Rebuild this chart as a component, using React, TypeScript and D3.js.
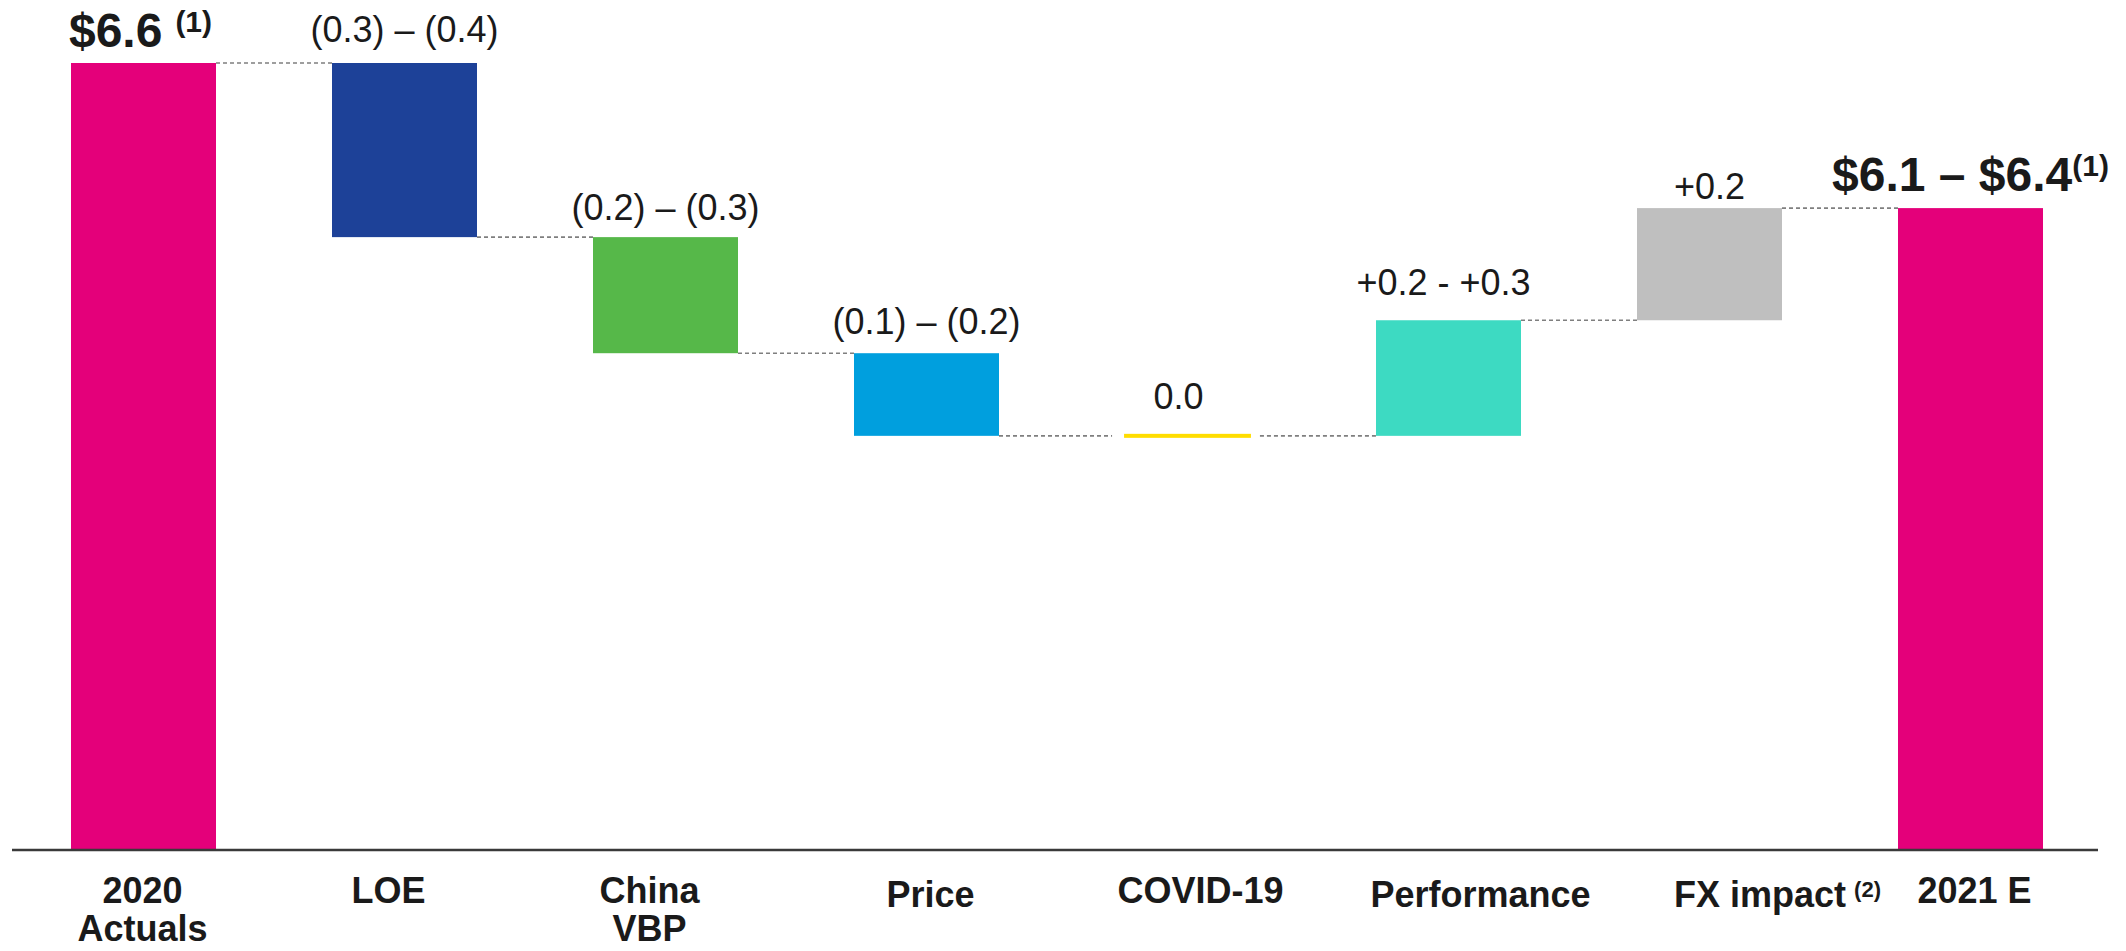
import React from "react";
import * as d3 from "d3";

// ---- data ----
const CATEGORIES = ["2020 Actuals", "LOE", "China VBP", "Price", "COVID-19", "Performance", "FX impact", "2021 E"];
const CATEGORY_LINES = [["2020", "Actuals"], ["LOE"], ["China", "VBP"], ["Price"], ["COVID-19"], ["Performance"], ["FX impact"], ["2021 E"]];
const CATEGORY_NOTES = ["", "", "", "", "", "", "(2)", ""];
const START_VALUE = 6.6;
const DELTAS = [-0.354, -0.236, -0.168, 0, 0.235, 0.228];
const VALUE_LABELS = ["$6.6", "(0.3) – (0.4)", "(0.2) – (0.3)", "(0.1) – (0.2)", "0.0", "+0.2 - +0.3", "+0.2", "$6.1 – $6.4"];
const VALUE_NOTES = ["(1)", "", "", "", "", "", "", "(1)"];
const Y_DOMAIN = [5.0, 6.6];

// ---- styles / layout ----
const COLORS = ["#E4007A", "#1D4198", "#56B849", "#009FDE", "#FFDD00", "#3DDAC2", "#BFBFBF", "#E4007A"];
const W = 2126;
const H = 951;
const AXIS_Y = 850;
const TOP_Y = 63;
const VALUE_GAP = [16, 21, 17, 19, 25, 25, 9, 17];
const VALUE_DX = [-3, 0, 0, 0, -9, -5, 0, 0];
const NOTE_DX = [13, 0, 0, 0, 0, 0, 0, 0];
const LABEL_DX = [-1, -16, -16, 4, 13, 32, 68, 4];
const LABEL_DY = [0, 0, 0, 4, 0, 4, 4, 0];
const LINE_GAP = 38;
const FONT = "'Liberation Sans', Arial, Helvetica, sans-serif";
const TEXT = "#1A1A1A";

export default function App() {
  const x = d3
    .scaleBand<string>()
    .domain(CATEGORIES)
    .range([71, 2043])
    .paddingInner(116 / 261)
    .paddingOuter(0);
  const y = d3.scaleLinear().domain(Y_DOMAIN).range([AXIS_Y, TOP_Y]);
  const bw = x.bandwidth();

  // build waterfall segments
  type Seg = { cat: string; lo: number; hi: number; level: number; kind: "total" | "delta" };
  const segs: Seg[] = [];
  segs.push({ cat: CATEGORIES[0], lo: Y_DOMAIN[0], hi: START_VALUE, level: START_VALUE, kind: "total" });
  let cur = START_VALUE;
  DELTAS.forEach((d, i) => {
    const next = cur + d;
    segs.push({ cat: CATEGORIES[i + 1], lo: Math.min(cur, next), hi: Math.max(cur, next), level: next, kind: "delta" });
    cur = next;
  });
  segs.push({ cat: CATEGORIES[CATEGORIES.length - 1], lo: Y_DOMAIN[0], hi: cur, level: cur, kind: "total" });

  const zeroW = bw * 0.875;
  const zeroH = 4;

  const barGeom = segs.map((s) => {
    const x0 = x(s.cat) as number;
    if (s.hi - s.lo < 1e-9) {
      const cy = y(s.level);
      return { x: x0 + (bw - zeroW) / 2, w: zeroW, y: cy - zeroH / 2, h: zeroH, zero: true };
    }
    return { x: x0, w: bw, y: y(s.hi), h: y(s.lo) - y(s.hi), zero: false };
  });

  // connectors
  const connectors = segs.slice(0, -1).map((s, i) => {
    const a = barGeom[i];
    const b = barGeom[i + 1];
    const x1 = a.x + a.w + (a.zero ? 9 : 0);
    const x2 = b.x - (b.zero ? 12 : 0);
    const level = s.kind === "total" ? s.hi : s.level;
    return { x1, x2, y: y(level) };
  });

  return (
    <svg
      width={W}
      height={H}
      viewBox={`0 0 ${W} ${H}`}
      style={{ position: "absolute", left: 0, top: 0, background: "#fff" }}
      fontFamily={FONT}
    >
      <rect x={0} y={0} width={W} height={H} fill="#fff" />
      {connectors.map((c, i) => (
        <line
          key={"c" + i}
          x1={c.x1}
          x2={c.x2}
          y1={c.y}
          y2={c.y}
          stroke="#7F7F7F"
          strokeWidth={1.6}
          strokeDasharray="4 3"
        />
      ))}
      {barGeom.map((g, i) => (
        <rect key={"b" + i} x={g.x} y={g.y} width={g.w} height={g.h} fill={COLORS[i]} />
      ))}
      <line x1={12} x2={2098} y1={AXIS_Y} y2={AXIS_Y} stroke="#3A3A3A" strokeWidth={2.5} />
      {segs.map((s, i) => {
        const cx = (x(s.cat) as number) + bw / 2 + VALUE_DX[i];
        const topY = barGeom[i].y;
        const isTotal = s.kind === "total";
        return (
          <text
            key={"v" + i}
            x={cx}
            y={topY - VALUE_GAP[i]}
            textAnchor="middle"
            fontSize={isTotal ? 48 : 36}
            fontWeight={isTotal ? 700 : 400}
            fill={TEXT}
          >
            {VALUE_LABELS[i]}
            {VALUE_NOTES[i] ? (
              <tspan fontSize={30} dx={NOTE_DX[i]} dy={-15}>
                {VALUE_NOTES[i]}
              </tspan>
            ) : null}
          </text>
        );
      })}
      {CATEGORIES.map((c, i) => {
        const cx = (x(c) as number) + bw / 2 + LABEL_DX[i];
        const lines = CATEGORY_LINES[i];
        return (
          <g key={"l" + i}>
            {lines.map((ln, j) => (
              <text
                key={j}
                x={cx}
                y={903 + LABEL_DY[i] + j * LINE_GAP}
                textAnchor="middle"
                fontSize={36}
                fontWeight={700}
                fill={TEXT}
              >
                {ln}
                {j === lines.length - 1 && CATEGORY_NOTES[i] ? (
                  <tspan fontSize={22} dx={8} dy={-10}>
                    {CATEGORY_NOTES[i]}
                  </tspan>
                ) : null}
              </text>
            ))}
          </g>
        );
      })}
    </svg>
  );
}
